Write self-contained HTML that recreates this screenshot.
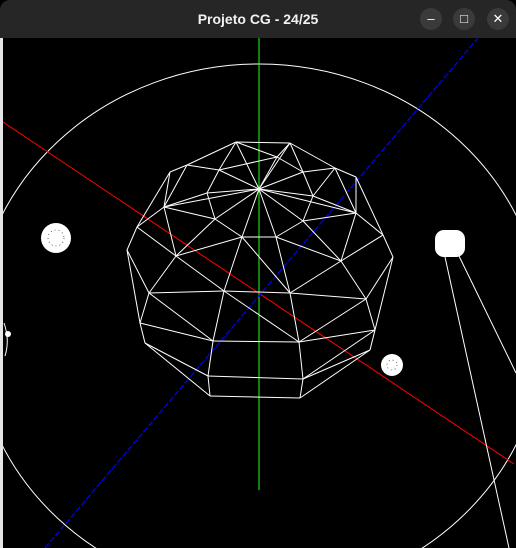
<!DOCTYPE html>
<html><head><meta charset="utf-8"><style>
html,body{margin:0;padding:0;background:#000;width:516px;height:548px;overflow:hidden}
#win{position:relative;width:516px;height:548px;background:#000;overflow:hidden}
#bar{position:absolute;left:0;top:0;width:516px;height:38px;background:#262626;border-radius:10px 10px 0 0;color:#f2f2f2;font:bold 14px "Liberation Sans",sans-serif;text-align:center;line-height:38px}
.btn{position:absolute;top:8px;width:22px;height:22px;border-radius:11px;background:#3a3a3a;color:#fff;font:13px "Liberation Sans",sans-serif;line-height:22px;text-align:center}
#strip{position:absolute;left:0;top:38px;width:3px;height:510px;background:#e6e6e6}
svg{position:absolute;left:0;top:0;overflow:hidden;display:block}
</style></head><body>
<div id="win">
<svg width="516" height="548" viewBox="0 0 516 548">
<ellipse cx="259" cy="330" rx="285" ry="266" fill="none" stroke="#fff" stroke-width="1"/>
<line x1="259" y1="38" x2="259" y2="490" stroke="#2f2" stroke-width="1"/>
<line x1="0" y1="120" x2="514" y2="464" stroke="#f00" stroke-width="1"/>
<line x1="45" y1="548" x2="478" y2="38" stroke="#00f" stroke-width="1.2" stroke-dasharray="6 2"/>
<g id="mesh" stroke="#fff" stroke-width="1" fill="none"></g>
<line x1="445" y1="257" x2="509" y2="548" stroke="#fff"/>
<line x1="459" y1="256" x2="516" y2="373" stroke="#fff"/>
<circle cx="56" cy="238" r="15" fill="#fff"/>
<circle cx="56" cy="238" r="8" fill="none" stroke="#000" stroke-width="0.6" stroke-dasharray="1 3"/>
<rect x="435" y="230" width="30" height="27" rx="9" fill="#fff"/>
<circle cx="392" cy="365" r="11" fill="#fff"/>
<circle cx="392" cy="365" r="5" fill="none" stroke="#000" stroke-width="0.6" stroke-dasharray="1 3"/>
<path d="M4 323 Q10 340 5 356" stroke="#fff" fill="none"/>
<circle cx="8" cy="334" r="3" fill="#fff"/>
</svg>
<div id="strip"></div>
<div id="bar">Projeto CG - 24/25
<div class="btn" style="left:420px">–</div>
<div class="btn" style="left:453px">□</div>
<div class="btn" style="left:487px">✕</div>
</div>
</div>
<script>
const V={P:[259,189],A:[236,142],B:[290,143],C:[187,165],D:[170,172],E:[219,170],F:[277,157],G:[303,172],H:[335,168],I:[356,177],J:[207,193],K:[164,207],L:[313,196],M:[356,213],N:[137,227],O:[215,219],Pp:[303,221],Q:[242,237],R:[276,237],S:[383,235],T:[127,250],U:[176,256],Vv:[341,261],W:[393,257],X:[149,293],Y:[224,291],Z:[290,293],AA:[366,299],AB:[140,323],AC:[213,341],AD:[299,342],AE:[375,330],AF:[145,343],AG:[370,350],AH:[208,376],AI:[303,379],AJ:[210,396],AK:[300,398],AL:[260,397]};
const E=[["A","B"],["A","C"],["C","D"],["B","H"],["H","I"],["A","F"],["B","F"],["C","E"],["A","E"],["E","F"],["F","G"],["B","G"],["G","H"],["P","A"],["P","B"],["P","E"],["P","F"],["P","G"],["P","J"],["P","L"],["P","O"],["P","Q"],["P","R"],["P","Pp"],["P","M"],["P","K"],["E","J"],["C","K"],["D","K"],["D","N"],["J","K"],["J","O"],["K","O"],["K","N"],["G","L"],["H","L"],["I","M"],["L","M"],["H","M"],["O","Q"],["Q","R"],["R","Pp"],["Pp","M"],["L","Pp"],["N","T"],["K","U"],["N","U"],["O","U"],["Q","U"],["Q","Y"],["R","Z"],["Q","Z"],["Pp","Vv"],["M","S"],["I","S"],["S","W"],["S","Vv"],["M","Vv"],["R","Vv"],["Vv","Z"],["T","X"],["U","X"],["U","Y"],["X","Y"],["Y","Z"],["Z","AA"],["Vv","AA"],["W","AA"],["W","AE"],["X","AB"],["T","AB"],["X","AC"],["Y","AC"],["Z","AD"],["Y","AD"],["AA","AD"],["AA","AE"],["AC","AD"],["AD","AE"],["AB","AF"],["AB","AC"],["AE","AG"],["AF","AH"],["AC","AH"],["AD","AI"],["AH","AI"],["AI","AG"],["AG","AK"],["AH","AJ"],["AI","AK"],["AJ","AK"],["AF","AJ"],["AE","AI"]];
const g=document.getElementById('mesh');
E.forEach(([a,b])=>{const l=document.createElementNS('http://www.w3.org/2000/svg','line');
l.setAttribute('x1',V[a][0]);l.setAttribute('y1',V[a][1]);l.setAttribute('x2',V[b][0]);l.setAttribute('y2',V[b][1]);


g.appendChild(l);});
</script>
</body></html>
